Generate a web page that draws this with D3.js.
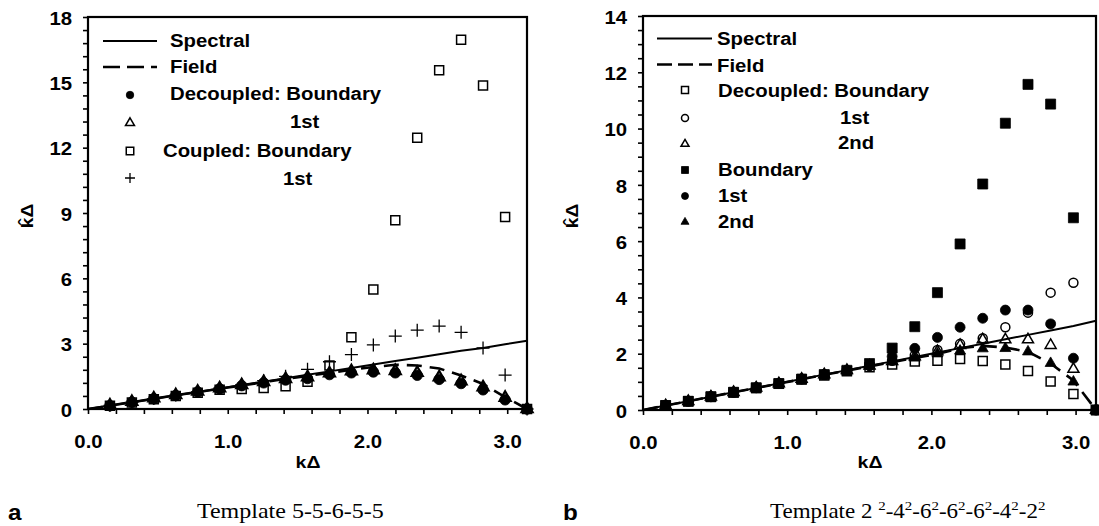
<!DOCTYPE html>
<html><head><meta charset="utf-8">
<script src="https://cdn.jsdelivr.net/npm/d3@7"></script>
<style>
body{margin:0;background:#fff;}
svg{display:block;}
</style></head><body>
<svg id="c" width="1099" height="526"></svg>
<script>
// ---------- DATA ----------
// kΔ sample points (n*pi/20, n = 1..20)
const kPts = [0.157,0.314,0.471,0.628,0.785,0.942,1.100,1.257,1.414,1.571,1.728,1.885,2.042,2.199,2.356,2.513,2.670,2.827,2.985,3.142];
// line samples (n = 0..20)
const kLine = [0,0.157,0.314,0.471,0.628,0.785,0.942,1.100,1.257,1.414,1.571,1.728,1.885,2.042,2.199,2.356,2.513,2.670,2.827,2.985,3.142];

// Panel a: Template 5-5-6-5-5
const spectralA = [0,0.157,0.314,0.471,0.628,0.785,0.942,1.10,1.257,1.414,1.571,1.728,1.885,2.042,2.199,2.356,2.513,2.67,2.80,2.97,3.13];
const fieldA    = [0,0.157,0.314,0.47,0.63,0.78,0.93,1.08,1.23,1.38,1.52,1.66,1.80,1.93,2.03,2.00,1.86,1.54,1.15,0.55,0];
const decBoundaryA = [0.15,0.31,0.47,0.62,0.78,0.92,1.07,1.20,1.33,1.40,1.58,1.66,1.70,1.66,1.55,1.36,1.17,0.88,0.42,0];
const dec1stA      = [0.17,0.33,0.49,0.64,0.80,0.95,1.10,1.24,1.38,1.46,1.64,1.74,1.78,1.75,1.66,1.46,1.28,1.00,0.52,0];
const coupBoundaryA= [0.15,0.30,0.45,0.60,0.75,0.88,0.92,0.97,1.05,1.25,2.00,3.29,5.49,8.67,12.45,15.55,16.96,14.86,8.82,0];
const coup1stA     = [0.16,0.32,0.48,0.64,0.80,0.96,1.12,1.30,1.50,1.82,2.17,2.50,2.94,3.35,3.62,3.81,3.52,2.80,1.56,0];

// Panel b: Template 2^2-4^2-6^2-6^2-6^2-4^2-2^2
const spectralB = [0,0.157,0.314,0.471,0.628,0.785,0.942,1.10,1.257,1.414,1.571,1.728,1.885,2.042,2.199,2.356,2.513,2.67,2.827,2.985,3.17];
const fieldB    = [0,0.157,0.314,0.47,0.63,0.78,0.94,1.09,1.25,1.40,1.55,1.70,1.85,1.99,2.20,2.28,2.22,2.07,1.65,1.05,0];
const decBoundaryB = [0.16,0.31,0.47,0.62,0.78,0.93,1.08,1.23,1.38,1.52,1.62,1.72,1.75,1.81,1.74,1.62,1.39,1.01,0.57,0];
const dec1stB      = [0.16,0.31,0.47,0.63,0.79,0.94,1.10,1.26,1.41,1.57,1.75,1.95,2.13,2.35,2.55,2.94,3.46,4.17,4.52,0];
const dec2ndB      = [0.16,0.31,0.47,0.63,0.79,0.94,1.10,1.26,1.41,1.57,1.73,1.90,2.08,2.30,2.50,2.50,2.50,2.30,1.45,0];
const coupBoundaryB= [0.16,0.31,0.47,0.63,0.79,0.94,1.10,1.26,1.41,1.65,2.20,2.96,4.17,5.90,8.03,10.19,11.57,10.87,6.83,0];
const coup1stB     = [0.16,0.31,0.47,0.63,0.79,0.94,1.10,1.26,1.41,1.57,1.90,2.19,2.58,2.94,3.26,3.55,3.55,3.06,1.84,0];
const coup2ndB     = [0.16,0.31,0.47,0.63,0.79,0.94,1.10,1.26,1.41,1.57,1.72,1.85,2.00,2.10,2.18,2.19,2.07,1.66,1.00,0];

// tick labels
const xTicks = [0,1,2,3];
const yTicksA = [0,3,6,9,12,15,18];
const yTicksB = [0,2,4,6,8,10,12,14];

const legendA = ["Spectral","Field","Decoupled: Boundary","1st","Coupled: Boundary","1st"];
const legendB = ["Spectral","Field","Decoupled: Boundary","1st","2nd","Boundary","1st","2nd"];
const captionA = [["Template 5-5-6-5-5",false]];
const captionB = [["Template 2 ",false],["2",true],["-4",false],["2",true],["-6",false],["2",true],["-6",false],["2",true],["-6",false],["2",true],["-4",false],["2",true],["-2",false],["2",true]];

// ---------- DRAWING ----------
const svg = d3.select("#c");
const SANS = "'Liberation Sans', Arial, Helvetica, sans-serif";
const SERIF = "'Liberation Serif', 'Times New Roman', serif";
const SX = 1.13;

function txt(g, x, y, s, o = {}) {
  return g.append("text")
    .attr("transform", `translate(${x},${y}) rotate(${o.rotate||0}) scale(${o.sx||SX},1)`)
    .attr("font-family", o.family || SANS)
    .attr("font-weight", o.weight || "bold")
    .attr("font-size", o.size || 18)
    .attr("text-anchor", o.anchor || "start")
    .attr("fill", "#000")
    .text(s);
}

function markerPath(type, s) {
  const p = d3.path();
  if (type.startsWith("square")) { p.rect(-s/2, -s/2, s, s); }
  else if (type.startsWith("circle")) { p.arc(0, 0, s/2, 0, 2*Math.PI); p.closePath(); }
  else if (type.startsWith("tri")) {
    const h = s*Math.sqrt(3)/2;
    p.moveTo(0, -2*h/3); p.lineTo(s/2, h/3); p.lineTo(-s/2, h/3); p.closePath();
  } else if (type === "plus") {
    p.moveTo(-s/2, 0); p.lineTo(s/2, 0); p.moveTo(0, -s/2); p.lineTo(0, s/2);
  }
  return p.toString();
}
function styleMarker(sel, type, sw) {
  const filled = type.endsWith("Filled");
  sel.attr("fill", filled ? "#000" : "none")
     .attr("stroke", "#000")
     .attr("stroke-width", sw || (type === "plus" ? 1.3 : (filled ? 0.8 : 1.5)));
}

function panel(cfg) {
  const x = d3.scaleLinear().domain([0, Math.PI]).range(cfg.xr);
  const y = d3.scaleLinear().domain([0, cfg.ymax]).range(cfg.yr);
  const g = svg.append("g");

  // markers
  cfg.series.forEach(s => {
    g.append("g").selectAll("path").data(s.values).join("path")
      .attr("d", markerPath(s.type, s.size))
      .attr("transform", (d, i) => `translate(${x(kPts[i])},${y(d)})`)
      .call(styleMarker, s.type, s.sw);
  });

  // lines
  const line = d3.line().x((d, i) => x(kLine[i])).y(d => y(d));
  g.append("path").datum(cfg.spectral).attr("d", line)
    .attr("fill", "none").attr("stroke", "#000").attr("stroke-width", 2);
  g.append("path").datum(cfg.field).attr("d", line)
    .attr("fill", "none").attr("stroke", "#000").attr("stroke-width", 2.6)
    .attr("stroke-dasharray", "15,8");

  // axes: minor + major ticks
  const xMinor = d3.range(0, 16).map(i => i * 0.2);
  const gx = g.append("g").attr("transform", `translate(0,${cfg.yr[0]})`)
    .call(d3.axisBottom(x).tickValues(xMinor).tickSize(5).tickFormat(""));
  gx.select(".domain").remove();
  gx.selectAll("line").attr("stroke-width", 1.6);
  const gxl = g.append("g").attr("transform", `translate(0,${cfg.yr[0]})`)
    .call(d3.axisBottom(x).tickValues(xTicks).tickSize(0).tickFormat(d3.format(".1f")));
  gxl.select(".domain").remove();
  gxl.selectAll("text").attr("font-family", SANS).attr("font-weight", "bold")
    .attr("font-size", 18).attr("fill", "#000").attr("dy", null).attr("y", 39)
    .attr("transform", `scale(${SX},1)`);

  const yMinor = d3.range(0, Math.round(cfg.ymax / cfg.yminor) + 1).map(i => +(i * cfg.yminor).toFixed(2));
  const gy = g.append("g").attr("transform", `translate(${cfg.xr[0]},0)`)
    .call(d3.axisLeft(y).tickValues(yMinor).tickSize(5).tickFormat(""));
  gy.select(".domain").remove();
  gy.selectAll("line").attr("stroke-width", 1.6);
  const gyl = g.append("g").attr("transform", `translate(${cfg.xr[0]},0)`)
    .call(d3.axisLeft(y).tickValues(cfg.yticks).tickSize(0).tickFormat(d3.format("d")));
  gyl.select(".domain").remove();
  gyl.selectAll("text").attr("font-family", SANS).attr("font-weight", "bold")
    .attr("font-size", 18).attr("fill", "#000").attr("dy", "0.4em")
    .attr("x", -16 / SX).attr("transform", `scale(${SX},1)`);

  // frame
  g.append("rect").attr("x", cfg.xr[0]).attr("y", cfg.yr[1])
    .attr("width", cfg.xr[1] - cfg.xr[0]).attr("height", cfg.yr[0] - cfg.yr[1])
    .attr("fill", "none").attr("stroke", "#000").attr("stroke-width", 2.2);

  // axis titles
  txt(g, cfg.xtitleX, 468, "kΔ", { anchor: "middle", size: 17, sx: 1.15 });
  const yt = g.append("g").attr("transform", `translate(${cfg.ytitleX},216) rotate(-90) scale(1.2,1)`);
  const t = yt.append("text").attr("font-family", SANS).attr("font-weight", "bold")
    .attr("font-size", 16).attr("text-anchor", "middle").text("kΔ");
  const total = t.node().getComputedTextLength();
  const kw = t.node().getSubStringLength(0, 1);
  yt.append("text").attr("font-family", SANS).attr("font-weight", "bold")
    .attr("font-size", 16).attr("text-anchor", "middle")
    .attr("x", -total / 2 + kw / 2 + 0.5).attr("y", -2.5).text("ˆ");

  // legend
  cfg.legend.forEach(L => {
    if (L.kind === "line") {
      g.append("line").attr("x1", L.lx[0]).attr("x2", L.lx[1]).attr("y1", L.ly).attr("y2", L.ly)
        .attr("stroke", "#000").attr("stroke-width", L.dash ? 2.4 : 2)
        .attr("stroke-dasharray", L.dash || null);
    } else {
      g.append("path").attr("d", markerPath(L.type, L.size))
        .attr("transform", `translate(${L.mx},${L.my})`).call(styleMarker, L.type);
    }
    txt(g, L.tx, L.ty, L.label);
  });

  // caption
  txt(g, cfg.letterX, 520, cfg.letter, { size: 22, sx: 1.1 });
  const cap = g.append("text")
    .attr("transform", `translate(${cfg.capX},518) scale(${cfg.capSX},1)`)
    .attr("font-family", SERIF).attr("font-size", 20).attr("fill", "#000");
  let up = false;
  cfg.caption.forEach(([s, sup]) => {
    const ts = cap.append("tspan").text(s);
    if (sup && !up) { ts.attr("dy", -8).attr("font-size", 13); up = true; }
    else if (!sup && up) { ts.attr("dy", 8); up = false; }
    else if (sup) ts.attr("font-size", 13);
  });
}

panel({
  xr: [88, 527], yr: [409, 17], ymax: 18, yminor: 0.6, yticks: yTicksA,
  spectral: spectralA, field: fieldA,
  series: [
    { values: coupBoundaryA, type: "squareOpen", size: 9 },
    { values: coup1stA, type: "plus", size: 13 },
    { values: decBoundaryA, type: "circleFilled", size: 10.5 },
    { values: dec1stA, type: "triOpen", size: 11, sw: 2.2 }
  ],
  xtitleX: 308, ytitleX: 33,
  legend: [
    { kind: "line", lx: [103, 157], ly: 41, tx: 170, ty: 47, label: legendA[0] },
    { kind: "line", lx: [103, 157], ly: 67, dash: "17,7", tx: 170, ty: 73, label: legendA[1] },
    { kind: "marker", type: "circleFilled", size: 7.5, mx: 130, my: 95, tx: 170, ty: 100, label: legendA[2] },
    { kind: "marker", type: "triOpen", size: 9, mx: 130, my: 123, tx: 290, ty: 128, label: legendA[3] },
    { kind: "marker", type: "squareOpen", size: 7.5, mx: 130, my: 151, tx: 163, ty: 157, label: legendA[4] },
    { kind: "marker", type: "plus", size: 10, mx: 130, my: 178, tx: 283, ty: 185, label: legendA[5] }
  ],
  letter: "a", letterX: 8, capX: 197, capSX: 1.2, caption: captionA
});

panel({
  xr: [643, 1096], yr: [410, 16], ymax: 14, yminor: 0.5, yticks: yTicksB,
  spectral: spectralB, field: fieldB,
  series: [
    { values: decBoundaryB, type: "squareOpen", size: 9 },
    { values: coupBoundaryB, type: "squareFilled", size: 10 },
    { values: dec1stB, type: "circleOpen", size: 9 },
    { values: coup1stB, type: "circleFilled", size: 10 },
    { values: dec2ndB, type: "triOpen", size: 11 },
    { values: coup2ndB, type: "triFilled", size: 11 }
  ],
  xtitleX: 870, ytitleX: 578,
  legend: [
    { kind: "line", lx: [657, 712], ly: 38.5, tx: 717, ty: 45, label: legendB[0] },
    { kind: "line", lx: [657, 712], ly: 64.5, dash: "15,6", tx: 717, ty: 72, label: legendB[1] },
    { kind: "marker", type: "squareOpen", size: 7, mx: 685, my: 90, tx: 718, ty: 97, label: legendB[2] },
    { kind: "marker", type: "circleOpen", size: 7, mx: 685, my: 118, tx: 840, ty: 124, label: legendB[3] },
    { kind: "marker", type: "triOpen", size: 8, mx: 685, my: 144, tx: 838, ty: 149, label: legendB[4] },
    { kind: "marker", type: "squareFilled", size: 7, mx: 685, my: 170, tx: 718, ty: 176, label: legendB[5] },
    { kind: "marker", type: "circleFilled", size: 7, mx: 685, my: 196, tx: 718, ty: 202, label: legendB[6] },
    { kind: "marker", type: "triFilled", size: 8, mx: 685, my: 222, tx: 718, ty: 228, label: legendB[7] }
  ],
  letter: "b", letterX: 563, capX: 770, capSX: 1.15, caption: captionB
});
</script>
</body></html>
